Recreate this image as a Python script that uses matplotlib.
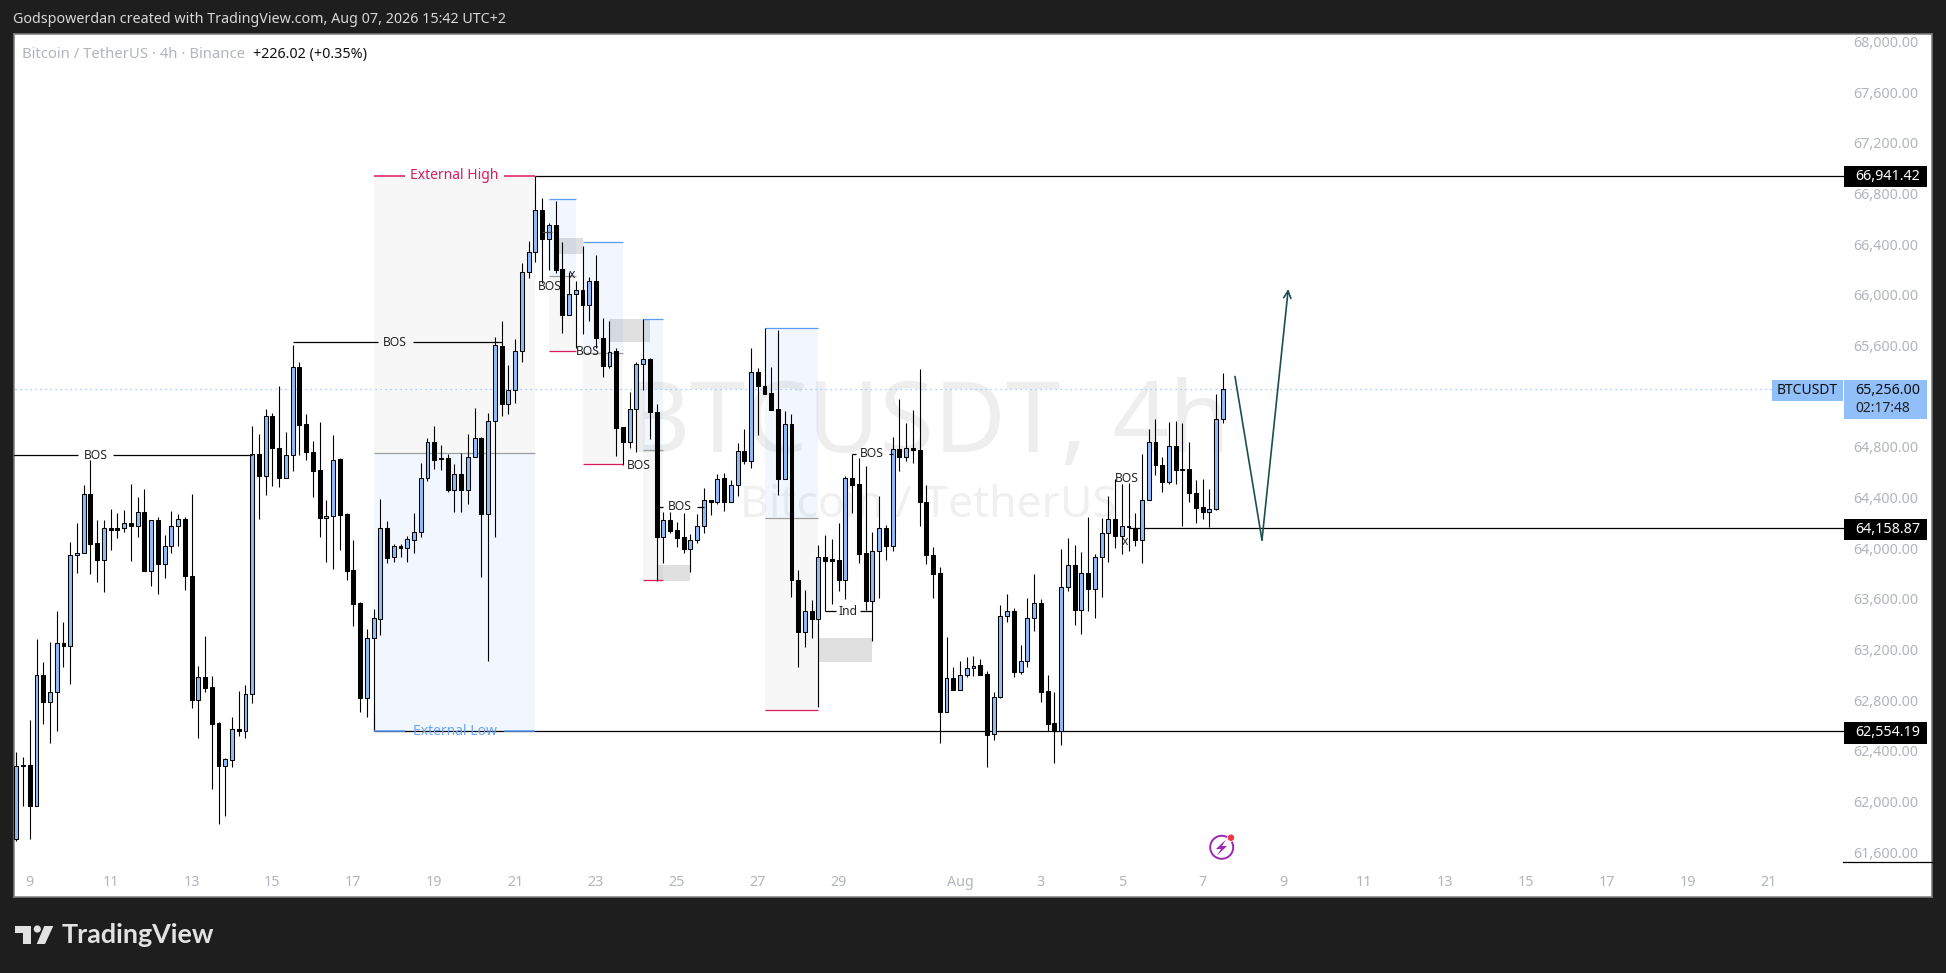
import matplotlib
matplotlib.use('Agg')
import matplotlib.pyplot as plt
from matplotlib.patches import Rectangle, Polygon, Circle

# Candle data, one entry per 4h bar
opens = [61701, 62288, 62288, 61966, 62999, 62782, 62864, 63250, 63225, 63944,
         63961, 64427, 64040, 63910, 64161, 64161, 64159, 64198, 64173, 64286,
         63817, 64221, 63879, 64015, 64173, 64229, 63778, 62804, 62982, 62903,
         62618, 62282, 62330, 62570, 62559, 62847, 64743, 64568, 65042, 64791,
         64551, 64734, 65431, 64980, 64760, 64616, 64235, 64252, 64703, 64269,
         63826, 63566, 62821, 63295, 63445, 64159, 63927, 64018, 64001, 64068,
         64125, 64554, 64839, 64712, 64712, 64463, 64585, 64463, 64720, 64870,
         64274, 65002, 65600, 65141, 65253, 65561, 66183, 66340, 66672, 66443,
         66554, 66207, 65842, 66008, 66041, 65920, 66113, 65664, 65440, 65555,
         64954, 64839, 65096, 65455, 65498, 65078, 64091, 64221, 64142, 64085,
         63997, 64064, 64178, 64384, 64369, 64553, 64369, 64501, 64764, 64692,
         65395, 65283, 65223, 65096, 64550, 64984, 63753, 63342, 63502, 63445,
         63927, 63914, 63911, 63751, 64558, 64506, 63959, 63585, 63980, 64156,
         64019, 64787, 64722, 64793, 64779, 64369, 63948, 63801, 62709, 62972,
         62883, 63001, 63051, 63075, 63003, 62530, 62822, 63461, 63501, 63025,
         63106, 63453, 63564, 62869, 62617, 62554, 63690, 63864, 63514, 63801,
         63682, 63927, 64124, 64227, 64098, 64177, 64161, 64066, 64382, 64835,
         64661, 64524, 64811, 64627, 64629, 64440, 64322, 64287, 64311, 65021]
highs = [62392, 62353, 62643, 63284, 63101, 63261, 63501, 63417, 64051, 64198,
         64500, 64698, 64221, 64221, 64311, 64280, 64303, 64508, 64407, 64469,
         64221, 64246, 64102, 64291, 64269, 64249, 64429, 63069, 63306, 62988,
         62626, 62342, 62669, 62872, 62920, 64966, 64903, 65101, 65067, 65279,
         64918, 65603, 65471, 65061, 64847, 64997, 64381, 64895, 64712, 64277,
         64066, 63575, 63363, 63521, 64387, 64215, 64032, 64032, 64097, 64277,
         64672, 64870, 64966, 64816, 64743, 64666, 64751, 64903, 65109, 64875,
         65067, 65665, 65797, 65443, 65655, 66249, 66424, 66941, 66763, 66569,
         66738, 66421, 66183, 66107, 66385, 66138, 66313, 65821, 65793, 65585,
         64960, 65232, 65470, 65812, 65504, 65135, 64290, 64287, 64206, 64281,
         64112, 64269, 64474, 64384, 64583, 64598, 64535, 64830, 64939, 65579,
         65422, 65742, 65428, 65721, 65087, 65057, 63828, 63671, 63590, 64024,
         64103, 64072, 64198, 64572, 64743, 64716, 64648, 64132, 64411, 64185,
         64882, 65177, 64987, 65090, 65413, 64498, 64006, 63851, 63298, 63061,
         63109, 63140, 63151, 63125, 63030, 62864, 63551, 63638, 63527, 63235,
         63606, 63795, 63598, 62998, 62861, 63993, 64080, 64024, 63969, 64243,
         63953, 64235, 64411, 64545, 64506, 64519, 64277, 64743, 64940, 65024,
         64724, 64995, 65003, 64987, 64835, 64537, 64545, 64466, 65216, 65387]
lows = [61690, 61961, 61707, 61963, 62612, 62463, 62556, 63064, 62928, 63806,
        63961, 63797, 63735, 63656, 63987, 64082, 64130, 63899, 64091, 63817,
        63701, 63639, 63766, 63964, 64018, 63670, 62739, 62505, 62866, 62099,
        61822, 61884, 62274, 62516, 62502, 62779, 64232, 64421, 64492, 64486,
        64551, 64610, 64737, 64698, 64401, 64091, 63893, 63837, 63987, 63749,
        63383, 62708, 62669, 62556, 63315, 63885, 63893, 63933, 63893, 63964,
        64091, 64531, 64627, 64616, 64446, 64288, 64283, 64350, 64720, 63769,
        63106, 64085, 65045, 65060, 65147, 65467, 66135, 66258, 66092, 66198,
        66177, 65697, 65842, 65579, 65691, 65797, 65579, 65350, 65425, 64728,
        64658, 64788, 64758, 65247, 64861, 63744, 63882, 64121, 64009, 63961,
        63813, 64039, 64118, 64263, 64347, 64293, 64362, 64411, 64667, 64631,
        64894, 65217, 65090, 64423, 64544, 63611, 63064, 63224, 63291, 62747,
        63506, 63559, 63664, 63601, 64282, 63885, 63511, 63269, 63609, 63909,
        63980, 64608, 64687, 64674, 64177, 63877, 63609, 62464, 62709, 62877,
        62883, 62985, 62988, 62998, 62275, 62488, 62817, 63419, 62982, 63006,
        63064, 63348, 62788, 62554, 62301, 62448, 63661, 63395, 63324, 63506,
        63451, 63616, 63893, 64003, 63956, 63980, 64019, 63885, 64382, 64577,
        64445, 64506, 64508, 64177, 64366, 64201, 64230, 64169, 64303, 64990]
closes = [62280, 62277, 61966, 62996, 62782, 62864, 63250, 63225, 63944, 63961,
          64427, 64037, 63910, 64159, 64147, 64147, 64198, 64173, 64286, 63817,
          64221, 63879, 64015, 64173, 64229, 63778, 62804, 62982, 62900, 62615,
          62282, 62333, 62570, 62556, 62847, 64743, 64568, 65042, 64788, 64551,
          64734, 65431, 64977, 64757, 64613, 64235, 64252, 64700, 64266, 63823,
          63563, 62821, 63295, 63448, 64159, 63924, 64015, 63998, 64071, 64125,
          64554, 64836, 64698, 64706, 64460, 64585, 64463, 64720, 64870, 64274,
          65002, 65603, 65141, 65253, 65561, 66183, 66340, 66672, 66443, 66554,
          66198, 65842, 66008, 66041, 65920, 66113, 65661, 65440, 65549, 64951,
          64839, 65096, 65458, 65495, 65078, 64091, 64221, 64139, 64082, 63997,
          64064, 64178, 64384, 64369, 64550, 64369, 64501, 64764, 64692, 65395,
          65283, 65220, 65093, 64550, 64984, 63753, 63342, 63502, 63445, 63928,
          63901, 63901, 63751, 64558, 64501, 63956, 63585, 63980, 64156, 64019,
          64787, 64722, 64793, 64777, 64366, 63948, 63798, 62709, 62972, 62883,
          63001, 63051, 63072, 63001, 62527, 62822, 63461, 63501, 63025, 63106,
          63453, 63564, 62867, 62614, 62554, 63690, 63864, 63514, 63801, 63682,
          63927, 64124, 64227, 64098, 64177, 64164, 64066, 64382, 64835, 64658,
          64524, 64811, 64616, 64619, 64437, 64319, 64287, 64311, 65021, 65256]

# Axis ticks
price_ticks = [68000, 67600, 67200, 66800, 66400, 66000, 65600, 65200, 64800, 64400,
               64000, 63600, 63200, 62800, 62400, 62000, 61600]
hidden_price_ticks = [65200]   # sits under the last price label
bold_price_ticks = [68000, 66000, 64000, 62000]
date_ticks = [2, 14, 26, 38, 50, 62, 74, 86, 98, 110, 122, 140, 152, 164, 176,
              188, 200, 212, 224, 236, 248, 260]
date_labels = ['9', '11', '13', '15', '17', '19', '21', '23', '25', '27', '29', 'Aug',
               '3', '5', '7', '9', '11', '13', '15', '17', '19', '21']

# Key levels from the drawing tools
external_high = 66941.42
external_low = 62554.19
support_level = 64158.87
last_price = 65256.00

# Range boxes: first bar, last bar, top, middle, bottom
box_first = [79, 84, 93, 111]
box_last = [83, 90, 96, 119]
box_top = [66754, 66421, 65812, 65742]
box_mid = [66153, 65543, 64779, 64236]
box_bottom = [65561, 64667, 63747, 62720]

# Grey zones: first bar, last bar, top, bottom
zone_first = [80, 88, 95, 119]
zone_last = [84, 94, 100, 127]
zone_top = [66446, 65812, 63867, 63290]
zone_bottom = [66322, 65630, 63744, 63103]

# Labelled lines: first bar, gap start, gap end, last bar, level, text
line_first = [-1, 41, 95, 124, 120]
gap_start = [9.2, 53.6, 96, 124.5, 121.6]
gap_end = [14.3, 58.8, 101, 129.4, 125.2]
line_last = [35, 72, 102, 130, 127]
line_level = [64734, 65625, 64329, 64745, 63501]
line_text = ['BOS', 'BOS', 'BOS', 'BOS', 'Ind']

# BOS / x notes without a line
note_bar = [79.2, 84.75, 92.3, 164.7, 82.4, 164.5]
note_price = [66068, 65555, 64652, 64550, 66162, 64051]
note_text = ['BOS', 'BOS', 'BOS', 'BOS', 'x', 'x']

# Projected path
path_bar = [180.8, 184.8, 188.7]
path_price = [65355, 64065, 66047]

BG = '#1e1e1e'
BLUE = '#8dbcf8'
GREY = '#b2b5be'
PINK = '#d81b60'
LINE_BLUE = '#5b9cf6'
PATH = '#1c4f4c'

plt.rcParams['font.family'] = ['Noto Sans', 'DejaVu Sans']

fig = plt.figure(figsize=(19.46, 9.73), dpi=100, facecolor=BG)
ax = fig.add_axes([13.5 / 1946, 1 - 897 / 973, 1918.5 / 1946, 863.3 / 973], zorder=1)
ax.set_xlim(-0.415, 284.2)
ax.set_ylim(61246, 68063)
ax.set_facecolor('white')
for spine in ax.spines.values():
    spine.set_color('#7c7c7c')
    spine.set_linewidth(1.1)

# Overlay in pixel units for the price tags and the page furniture
ui = fig.add_axes([0, 0, 1, 1], zorder=5)
ui.set_xlim(0, 1946)
ui.set_ylim(973, 0)
ui.axis('off')

# Watermark
ax.text(928, 452, 'BTCUSDT, 4h', transform=ui.transData, ha='center', va='baseline',
        fontsize=71, color='#eeeeee', zorder=0)
ax.text(928, 517, 'Bitcoin / TetherUS', transform=ui.transData, ha='center', va='baseline',
        fontsize=32, color='#f0f0f0', zorder=0)

# External range box
ax.add_patch(Rectangle((53, 64749), 24, external_high - 64749, fc='#787b86', alpha=0.06, ec='none', zorder=1))
ax.add_patch(Rectangle((53, external_low), 24, 64749 - external_low, fc='#2979ff', alpha=0.06, ec='none', zorder=1))
ax.hlines(64749, 53, 77, color='#9e9e9e', lw=0.9, zorder=2)

# Smaller range boxes
for i in range(len(box_first)):
    x0, x1 = box_first[i], box_last[i]
    ax.add_patch(Rectangle((x0, box_mid[i]), x1 - x0, box_top[i] - box_mid[i], fc='#2979ff', alpha=0.06, ec='none', zorder=1))
    ax.add_patch(Rectangle((x0, box_bottom[i]), x1 - x0, box_mid[i] - box_bottom[i], fc='#787b86', alpha=0.06, ec='none', zorder=1))
    ax.hlines(box_top[i], x0, x1, color=LINE_BLUE, lw=0.9, zorder=2)
    ax.hlines(box_mid[i], x0, x1, color='#9e9e9e', lw=0.9, zorder=2)
    ax.hlines(box_bottom[i], x0, x1, color=PINK, lw=0.9, zorder=2)

for i in range(len(zone_first)):
    ax.add_patch(Rectangle((zone_first[i], zone_bottom[i]), zone_last[i] - zone_first[i],
                           zone_top[i] - zone_bottom[i], fc='black', alpha=0.12, ec='none', zorder=1.5))

# Last price line
ax.hlines(last_price, -1, 260.5, color='#90bff9', lw=0.9, linestyle=(0, (1, 3)), zorder=1.8)

# Level lines running to the price scale
ax.hlines(external_high, 77, 271.2, color='black', lw=0.9, zorder=2)
ax.hlines(external_low, 53, 271.2, color='black', lw=0.9, zorder=2)
ax.hlines(support_level, 165, 271.2, color='black', lw=0.9, zorder=2)
ax.hlines(66500, 78, 79.5, color='#444444', lw=0.9, zorder=3.2)
ax.vlines(53, external_low, 62700, color='black', lw=0.8, zorder=2)

# Candles
for i in range(len(opens)):
    up = closes[i] >= opens[i]
    ax.vlines(i, lows[i], highs[i], color='black', lw=0.8, zorder=3)
    bottom = min(opens[i], closes[i])
    ax.add_patch(Rectangle((i - 0.29, bottom), 0.58, abs(closes[i] - opens[i]),
                           fc=BLUE if up else 'black', ec='black', lw=0.75, zorder=3.1))

# External high / low labels
ax.hlines(external_high, 53, 57.6, color=PINK, lw=1.1, zorder=3.5)
ax.hlines(external_high, 72.4, 77, color=PINK, lw=1.1, zorder=3.5)
ax.text(65, external_high, 'External High', color=PINK, fontsize=10, ha='center', va='center', zorder=4)
ax.hlines(external_low, 53, 57.6, color=LINE_BLUE, lw=1.1, zorder=3.5)
ax.hlines(external_low, 72.4, 77, color=LINE_BLUE, lw=1.1, zorder=3.5)
ax.text(65, external_low, 'External Low', color='#6aa6f8', fontsize=10, ha='center', va='center', zorder=4)

# BOS and Ind lines
for i in range(len(line_first)):
    ax.hlines(line_level[i], line_first[i], gap_start[i], color='black', lw=0.9, zorder=3.2)
    ax.hlines(line_level[i], gap_end[i], line_last[i], color='black', lw=0.9, zorder=3.2)
    ax.text((gap_start[i] + gap_end[i]) / 2, line_level[i], line_text[i], color='#222222',
            fontsize=8.7, ha='center', va='center', zorder=4)

for i in range(len(note_bar)):
    ax.text(note_bar[i], note_price[i], note_text[i], color='#222222', fontsize=8.7,
            ha='center', va='center', zorder=4)

# Projected path with arrow head
ax.plot(path_bar[:2], path_price[:2], color=PATH, lw=1.2, zorder=4)
ax.annotate('', xy=(path_bar[2], path_price[2]), xytext=(path_bar[1], path_price[1]), zorder=4,
            arrowprops=dict(arrowstyle='->', color=PATH, lw=1.2, shrinkA=0, shrinkB=0, mutation_scale=13))

# Axes labels, drawn inside the plot box like the original
shown = [('' if p in hidden_price_ticks else f'{p:,.2f}') for p in price_ticks]
ax.yaxis.tick_right()
ax.set_yticks(price_ticks)
ax.set_yticklabels(shown)
ax.tick_params(axis='y', length=0, pad=-56.5, labelsize=10.3, labelcolor=GREY)
for lab, p in zip(ax.get_yticklabels(), price_ticks):
    lab.set_ha('left')
    if p in bold_price_ticks:
        lab.set_fontweight('bold')
ax.set_xticks(date_ticks)
ax.set_xticklabels(date_labels)
ax.tick_params(axis='x', length=0, pad=-16, labelsize=10.3, labelcolor=GREY)
for lab in ax.get_xticklabels():
    if lab.get_text() == 'Aug':
        lab.set_fontweight('bold')

# Price tags
tag_y = [(166, 187), (519, 540), (722, 743.5)]
tag_text = [f'{external_high:,.2f}', f'{support_level:,.2f}', f'{external_low:,.2f}']
for (y0, y1), t in zip(tag_y, tag_text):
    ui.add_patch(Rectangle((1844, y0), 83, y1 - y0, fc='black', ec='none'))
    ui.text(1855, (y0 + y1) / 2, t, color='white', fontsize=10.3, ha='left', va='center')
ui.add_patch(Rectangle((1772, 380), 70.5, 21, fc='#90bff9', ec='none'))
ui.text(1807, 390.5, 'BTCUSDT', color='#111111', fontsize=10, ha='center', va='center')
ui.add_patch(Rectangle((1844, 380), 83, 39, fc='#90bff9', ec='none'))
ui.text(1855, 390, f'{last_price:,.2f}', color='#111111', fontsize=10.3, ha='left', va='center')
ui.text(1855, 408, '02:17:48', color='#222222', fontsize=10, ha='left', va='center')
ui.plot([1843, 1932], [862, 862], color='black', lw=0.9)

# Header and legend
ui.text(13, 19.5, 'Godspowerdan created with TradingView.com, Aug 07, 2026 15:42 UTC+2',
        color='#d8d8d8', fontsize=10.3, ha='left', va='center')
ui.text(22, 54.5, 'Bitcoin / TetherUS · 4h · Binance', color=GREY, fontsize=10.7, ha='left', va='center')
ui.text(253, 54.5, '+226.02 (+0.35%)', color='#111111', fontsize=10.3, ha='left', va='center')

# Lightning icon
ui.add_patch(Circle((1221.7, 847.3), 11.5, fc='none', ec='#9c27b0', lw=1.4))
ui.add_patch(Polygon([(1226, 839.5), (1216, 849), (1221, 849), (1217, 855.5), (1227, 846), (1222, 846)],
                     fc='#9c27b0', ec='none'))
ui.add_patch(Circle((1231, 837.7), 3.7, fc='#f23645', ec='white', lw=0.6))

# TradingView logo
logo = '#e2e2e2'
ui.add_patch(Polygon([(15, 925.7), (31, 925.7), (31, 944), (22.5, 944), (22.5, 933), (15, 933)], fc=logo, ec='none'))
ui.add_patch(Circle((37.3, 929), 3.6, fc=logo, ec='none'))
ui.add_patch(Polygon([(44.3, 926), (53.3, 926), (45, 944), (36.7, 944)], fc=logo, ec='none'))
ui.text(62, 935, 'TradingView', color=logo, fontsize=19.4, family='Lato', fontweight='bold', ha='left', va='center')

fig.savefig('out.png', dpi=100, facecolor=BG)
